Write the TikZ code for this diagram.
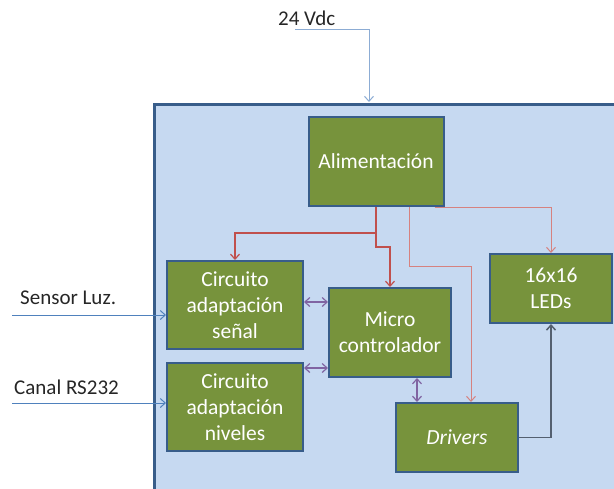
\documentclass[tikz,border=0pt]{standalone}
\usepackage{fontspec}
\setmainfont{Carlito}
\usetikzlibrary{arrows.meta}
\definecolor{boardfill}{RGB}{198,217,241}
\definecolor{boarddraw}{RGB}{56,93,138}
\definecolor{greenfill}{RGB}{119,147,60}
\definecolor{redline}{RGB}{192,80,77}
\definecolor{pinkline}{RGB}{214,130,128}
\definecolor{purpleline}{RGB}{128,100,162}
\definecolor{grayline}{RGB}{84,96,112}
\definecolor{blueline}{RGB}{79,129,189}
\definecolor{lightblueline}{RGB}{140,172,212}
\definecolor{labeltext}{RGB}{38,38,38}
\tikzset{
  block/.style={draw=boarddraw, line width=2pt, fill=greenfill, text=white,
    font=\fontsize{21.5}{26}\selectfont, align=center, inner sep=0pt},
  tip/.style={-{Straight Barb[length=5pt,width=9pt]}},
  dtip/.style={{Straight Barb[length=5pt,width=9pt]}-{Straight Barb[length=5pt,width=9pt]}},
  outlabel/.style={text=labeltext, font=\fontsize{21}{25}\selectfont, inner sep=0pt, anchor=west},
}
\begin{document}
\begin{tikzpicture}[x=1pt,y=-1pt]
\useasboundingbox (0,0) rectangle (614,488);
\begin{scope}
\clip (0,0) rectangle (614,488);
\node[draw=boarddraw, line width=3pt, fill=boardfill, minimum width=500pt, minimum height=420pt, anchor=north west, inner sep=0pt] (board) at (153,103) {};
\end{scope}
% blocks
\node[block, minimum width=135pt, minimum height=89pt] (alim) at (376,161.5) {Alimentación};
\node[block, minimum width=136pt, minimum height=88pt] (senal) at (235,305) {Circuito\\adaptación\\señal};
\node[block, minimum width=136pt, minimum height=88pt] (niveles) at (235,407) {Circuito\\adaptación\\niveles};
\node[block, minimum width=122pt, minimum height=89pt] (micro) at (390,332.5) {Micro\\controlador};
\node[block, minimum width=122pt, minimum height=69pt] (drivers) at (457,437.5) {\itshape Drivers};
\node[block, minimum width=122pt, minimum height=69pt] (leds) at (551,288.5) {16x16\\LEDs};
% outside labels
\node[outlabel] (vdc) at (278,18) {24 Vdc};
\node[outlabel] (sensor) at (20,298) {Sensor Luz.};
\node[outlabel] (canal) at (14,387) {Canal RS232};
\coordinate (vdcstart) at (295,29);
\coordinate (vdcend) at (369,102);
\coordinate (sensorstart) at (12,315);
\coordinate (canalstart) at (12,403);
% 24 Vdc feed
\draw[lightblueline, line width=1pt, tip] (vdcstart) -| (vdcend);
% inputs
\draw[blueline, line width=1pt, tip] (sensorstart) -- (senal.west |- sensorstart);
\draw[blueline, line width=1pt, tip] (canalstart) -- (niveles.west |- canalstart);
% power distribution
\coordinate (jn) at (376,233);
\coordinate (jm) at (376,247);
\draw[redline, line width=1.2pt, tip] (alim.south) -- (jn) -| (senal.north);
\draw[redline, line width=1.2pt, tip] (jn) -- (jm) -| (micro.north);
\coordinate (pd) at (409,266);
\draw[pinkline, line width=1pt, tip] (alim.south -| pd) -- (pd) -| ([xshift=14pt]drivers.north);
\draw[pinkline, line width=1pt, tip] ([xshift=-10pt]alim.south east) -| (leds.north);
% data
\coordinate (d1) at (0,302);
\coordinate (d2) at (0,368);
\coordinate (d3) at (417,0);
\draw[purpleline, line width=1.2pt, dtip] (senal.east |- d1) -- (micro.west |- d1);
\draw[purpleline, line width=1.2pt, dtip] (niveles.east |- d2) -- (micro.west |- d2);
\draw[purpleline, line width=1.2pt, dtip] (micro.south -| d3) -- (drivers.north -| d3);
\draw[grayline, line width=1.5pt, tip] (drivers.east) -| (leds.south);
\end{tikzpicture}
\end{document}
